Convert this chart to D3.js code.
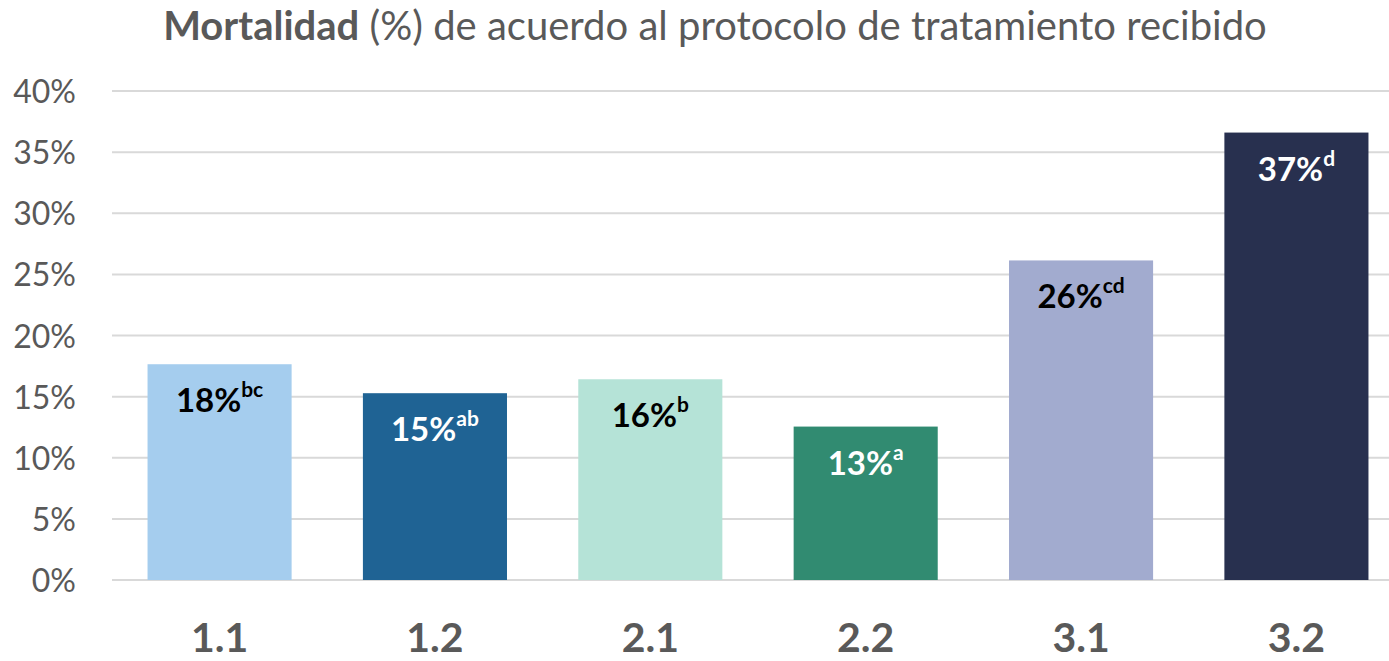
<!DOCTYPE html>
<html><head><meta charset="utf-8">
<script src="https://cdn.jsdelivr.net/npm/d3@7"></script>
<style>body{margin:0;background:#fff}svg{display:block}</style>
</head><body>
<svg id="c" width="1389" height="661"></svg>
<script>
const categories = ["1.1","1.2","2.1","2.2","3.1","3.2"];
const values = [0.1765, 0.1528, 0.1642, 0.1255, 0.2614, 0.366];
const letters = ["bc","ab","b","a","cd","d"];
const colors = ["#a5cdee","#1f6394","#b5e3d7","#318b71","#a2abcf","#28304f"];
const labelColors = ["#000000","#ffffff","#000000","#ffffff","#000000","#ffffff"];
const yTicks = [0,0.05,0.10,0.15,0.20,0.25,0.30,0.35,0.40];

const FONT = "Lato, 'Open Sans', sans-serif";
const svg = d3.select("#c");
const x = d3.scaleBand().domain(categories).range([112,1404]).paddingInner(0.331).paddingOuter(0.165);
const y = d3.scaleLinear().domain([0,0.40]).range([580,91]);

// gridlines
svg.append("g").selectAll("line").data(yTicks).join("line")
  .attr("x1",112).attr("x2",1404)
  .attr("y1",d=>y(d)).attr("y2",d=>y(d))
  .attr("stroke","#d9d9d9").attr("stroke-width",2);

// y axis labels
const yAxis = d3.axisLeft(y).tickValues(yTicks).tickFormat(d3.format(".0%")).tickSize(0).tickPadding(0);
const ya = svg.append("g").attr("transform","translate(76,0)").call(yAxis);
ya.select(".domain").remove();
ya.selectAll("text").attr("font-family",FONT).attr("font-size",32).attr("fill","#595959").attr("dy","0.36em");

// bars
svg.append("g").selectAll("rect").data(values).join("rect")
  .attr("x",(d,i)=>x(categories[i])).attr("width",x.bandwidth())
  .attr("y",d=>y(d)).attr("height",d=>y(0)-y(d))
  .attr("fill",(d,i)=>colors[i]);

// bar labels
const fmt = d3.format(".0%");
const lab = svg.append("g").selectAll("text").data(values).join("text")
  .attr("x",(d,i)=>x(categories[i])+x.bandwidth()/2)
  .attr("y",d=>y(d)+48)
  .attr("text-anchor","middle")
  .attr("font-family",FONT).attr("font-weight","bold")
  .attr("fill",(d,i)=>labelColors[i]);
lab.append("tspan").attr("font-size",33).text(d=>fmt(d));
lab.append("tspan").attr("font-size",21).attr("dy",-15).text((d,i)=>letters[i]);

// x axis labels
const xAxis = d3.axisBottom(x).tickSize(0).tickPadding(0);
const xa = svg.append("g").attr("transform","translate(0,652)").call(xAxis);
xa.select(".domain").remove();
xa.selectAll("text").attr("font-family",FONT).attr("font-size",41).attr("font-weight","bold").attr("fill","#595959").attr("dy",0);

// title
const title = svg.append("text").attr("x",715).attr("y",40).attr("text-anchor","middle")
  .attr("font-family",FONT).attr("font-size",38).attr("fill","#595959");
title.append("tspan").attr("font-weight","bold").text("Mortalidad");
title.append("tspan").text(" (%) de acuerdo al protocolo de tratamiento recibido");
const w = title.node().getComputedTextLength();
title.attr("font-size",38*1104/w);
</script>
</body></html>
